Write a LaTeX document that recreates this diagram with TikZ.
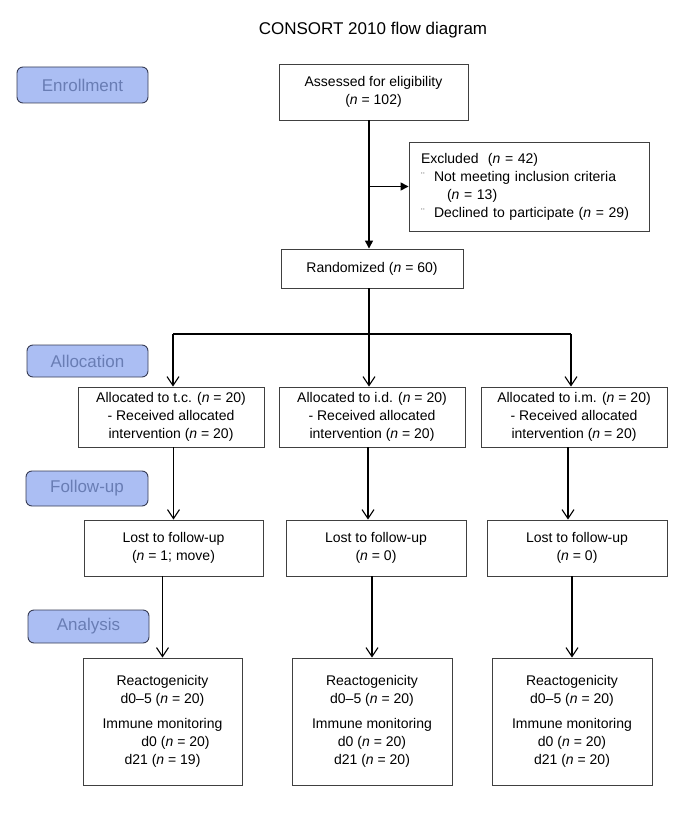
\documentclass[tikz,border=0pt]{standalone}
\usepackage{fontspec}
\setmainfont{Liberation Sans}
\usetikzlibrary{arrows.meta}
\definecolor{phasefill}{RGB}{171,190,243}
\definecolor{phasetext}{RGB}{105,125,180}
\definecolor{phaseline}{RGB}{55,60,85}
\newcommand{\nn}{\textit{n}}
\newcommand{\blt}{\makebox[13pt][l]{\raisebox{0.5pt}{\color{black!60}\fontsize{11}{11}\selectfont ¨}}}
\begin{document}
\begin{tikzpicture}[x=1pt,y=-1pt,
  box/.style={draw=black!75, line width=0.9pt, fill=white, inner sep=0pt, align=center,
    font=\fontsize{14}{18}\selectfont},
  phase/.style={draw=phaseline, line width=0.9pt, rounded corners=6pt, fill=phasefill,
    text=phasetext, inner sep=0pt, font=\fontsize{17}{20}\selectfont},
  conn/.style={line width=1.3pt},
  openarr/.style={conn, -{Straight Barb[length=9pt,width=12pt,line width=1.1pt]}},
  fillarr/.style={conn, -{Triangle[length=8pt,width=8pt]}}
]
\useasboundingbox (0,0) rectangle (700,818);

\node[font=\fontsize{17}{20}\selectfont] (title) at (373,30) {CONSORT 2010 flow diagram};

% phase labels
\node[phase, minimum width=131, minimum height=36] (enr) at (82.5,85) {Enrollment};
\node[phase, minimum width=121, minimum height=32] (alo) at (87.5,361) {Allocation};
\node[phase, minimum width=122, minimum height=35] (fol) at (87,488.5) {Follow-up};
\node[phase, minimum width=121, minimum height=33] (ana) at (88.5,626.5) {Analysis};

% boxes
\node[box, minimum width=189, minimum height=56] (assess) at (373.5,92)
  {Assessed for eligibility\\(\nn{} = 102)};
\node[box, minimum height=89, text width=216, inner xsep=12pt, align=left] (excl) at (529,186.5)
  {Excluded\ \ (\nn{} = 42)\\
   \blt Not meeting inclusion criteria\\
   \hspace*{26pt}(\nn{} = 13)\\
   \blt Declined to participate (\nn{} = 29)};
\node[box, minimum width=182, minimum height=39] (rand) at (372,268.5)
  {Randomized (\nn{} = 60)};

\node[box, minimum width=186, minimum height=60] (a1) at (171,417)
  {Allocated to t.c. (\nn{} = 20)\\- Received allocated\\intervention (\nn{} = 20)};
\node[box, minimum width=186, minimum height=60] (a2) at (372,417)
  {Allocated to i.d. (\nn{} = 20)\\- Received allocated\\intervention (\nn{} = 20)};
\node[box, minimum width=186, minimum height=60] (a3) at (574,417)
  {Allocated to i.m. (\nn{} = 20)\\- Received allocated\\intervention (\nn{} = 20)};

\node[box, minimum width=179, minimum height=56] (l1) at (173.5,548)
  {Lost to follow-up\\(\nn{} = 1; move)};
\node[box, minimum width=180, minimum height=56] (l2) at (376,548)
  {Lost to follow-up\\(\nn{} = 0)};
\node[box, minimum width=180, minimum height=56] (l3) at (577,548)
  {Lost to follow-up\\(\nn{} = 0)};

\node[box, minimum width=159, minimum height=127] (f1) at (162.5,721.5)
  {Reactogenicity\\d0–5 (\nn{} = 20)\\[7pt]Immune monitoring\\\hspace*{26pt}d0 (\nn{} = 20)\\d21 (\nn{} = 19)};
\node[box, minimum width=160, minimum height=127] (f2) at (372,721.5)
  {Reactogenicity\\d0–5 (\nn{} = 20)\\[7pt]Immune monitoring\\d0 (\nn{} = 20)\\d21 (\nn{} = 20)};
\node[box, minimum width=160, minimum height=127] (f3) at (572,721.5)
  {Reactogenicity\\d0–5 (\nn{} = 20)\\[7pt]Immune monitoring\\d0 (\nn{} = 20)\\d21 (\nn{} = 20)};

% helper coordinates
\coordinate (tx) at (369,0);
\coordinate (sp) at (369,334);
\coordinate (h1) at (173,334);
\coordinate (h3) at (571,334);
\coordinate (v2) at (368,0);
\coordinate (v3) at (568,0);

% connectors
\draw[fillarr] (assess.south -| tx) -- (rand.north -| tx);
\draw[fillarr] (excl.west -| tx) -- (excl.west);
\draw[conn] (rand.south -| tx) -- (sp);
\draw[conn] (h1) -- (h3);
\draw[openarr] (h1) -- (a1.north -| h1);
\draw[openarr] (sp) -- (a2.north -| sp);
\draw[openarr] (h3) -- (a3.north -| h3);

\draw[openarr] (a1.south -| l1.north) -- (l1.north);
\draw[openarr] (a2.south -| v2) -- (l2.north -| v2);
\draw[openarr] (a3.south -| v3) -- (l3.north -| v3);

\draw[openarr] (l1.south -| f1.north) -- (f1.north);
\draw[openarr] (l2.south -| f2.north) -- (f2.north);
\draw[openarr] (l3.south -| f3.north) -- (f3.north);
\end{tikzpicture}
\end{document}
